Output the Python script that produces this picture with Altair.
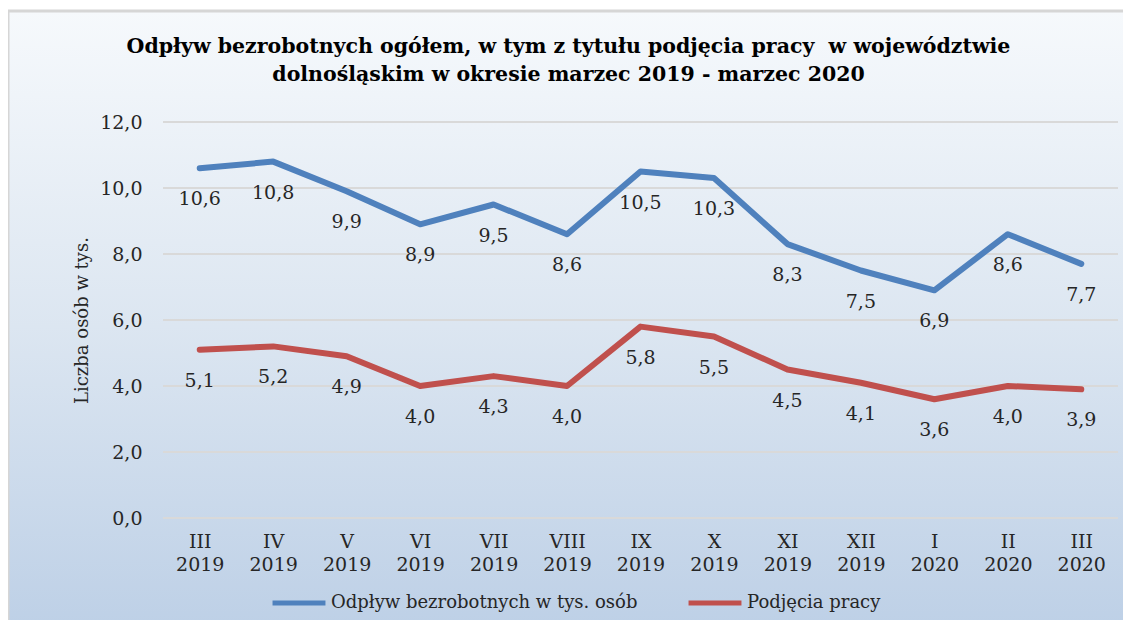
import altair as alt
import pandas as pd

miesiace = ["III", "IV", "V", "VI", "VII", "VIII", "IX", "X", "XI", "XII", "I", "II", "III"]
lata = ["2019"] * 10 + ["2020"] * 3
odplyw = [10.6, 10.8, 9.9, 8.9, 9.5, 8.6, 10.5, 10.3, 8.3, 7.5, 6.9, 8.6, 7.7]
podjecia = [5.1, 5.2, 4.9, 4.0, 4.3, 4.0, 5.8, 5.5, 4.5, 4.1, 3.6, 4.0, 3.9]
serie = ["Odpływ bezrobotnych w tys. osób", "Podjęcia pracy"]
kolory = ["#4f81bd", "#c0504d"]
tytul = ["Odpływ bezrobotnych ogółem, w tym z tytułu podjęcia pracy\u00a0 w województwie",
         "dolnośląskim w okresie marzec 2019 - marzec 2020"]
y_tytul = "Liczba osób w tys."
y_ticks = [0, 2, 4, 6, 8, 10, 12]

okresy = [f"{m} {r}" for m, r in zip(miesiace, lata)]
rows = []
for s, vals in zip(serie, [odplyw, podjecia]):
    for o, v in zip(okresy, vals):
        rows.append({"okres": o, "seria": s, "wartosc": v})
df = pd.DataFrame(rows)

FONT = "DejaVu Serif"
yscale = alt.Scale(domain=[0, 12], nice=False)
yaxis = alt.Axis(values=y_ticks, title=y_tytul, zindex=1, grid=False,
                 labelExpr="replace(format(datum.value, '.1f'), '.', ',')")

bg = alt.Chart(pd.DataFrame({"a": [0]})).mark_rect(
    fill=alt.LinearGradient(
        gradient="linear",
        stops=[alt.GradientStop(color="#f6f9fc", offset=0),
               alt.GradientStop(color="#dce6f1", offset=0.5),
               alt.GradientStop(color="#bccfe6", offset=1)],
        x1=0, x2=0, y1=0, y2=1),
    stroke="#d6d6d6", strokeWidth=3,
).encode(x=alt.value(-155), x2=alt.value(975), y=alt.value(-111), y2=alt.value(520))

grid = alt.Chart(pd.DataFrame({"t": y_ticks})).mark_rule(color="#d9d9d9", strokeWidth=2).encode(
    y=alt.Y("t:Q", scale=yscale, axis=yaxis),
    x=alt.value(0), x2=alt.value(955),
)

base = alt.Chart(df).encode(
    x=alt.X("okres:N", sort=okresy, title=None,
            scale=alt.Scale(paddingOuter=0.5, paddingInner=0),
            axis=alt.Axis(labelExpr="split(datum.label, ' ')", labelAngle=0, zindex=1)),
    y=alt.Y("wartosc:Q", scale=yscale, axis=yaxis),
)

lines = base.mark_line(strokeWidth=6, strokeCap="round", strokeJoin="round").encode(
    color=alt.Color("seria:N", scale=alt.Scale(domain=serie, range=kolory),
                    legend=alt.Legend(title=None, orient="none", legendX=107, legendY=452,
                                      direction="horizontal", symbolType="stroke",
                                      symbolSize=2800, symbolStrokeWidth=5,
                                      labelFont=FONT, labelFontSize=18, labelColor="#262626",
                                      labelLimit=0, labelOffset=3, columnPadding=40,
                                      zindex=1)),
)

labels = base.mark_text(dy=31, font=FONT, fontSize=19, color="#262626").transform_calculate(
    lab="replace(format(datum.wartosc, '.1f'), '.', ',')"
).encode(text="lab:N")

chart = alt.layer(bg, grid, lines, labels).resolve_scale(y="shared").properties(
    width=955, height=396,
    autosize=alt.AutoSizeParams(type="none"),
    padding={"left": 155, "top": 114, "right": 5, "bottom": 102},
    title=alt.TitleParams(text=tytul, font=FONT, fontSize=20.5, fontWeight="bold",
                          color="#000000", anchor="middle", dx=-72, dy=76, offset=0,
                          lineHeight=28, zindex=1),
).configure_view(stroke=None).configure_axis(
    labelFont=FONT, labelFontSize=19, labelColor="#262626",
    titleFont=FONT, titleFontSize=18, titleColor="#262626", titleFontWeight="normal",
    domain=False, ticks=False, grid=False,
).configure_axisX(labelPadding=14, labelLineHeight=23
).configure_axisY(labelPadding=21, titlePadding=8)

chart.save("out.html", embed_options={"renderer": "svg", "actions": False})
